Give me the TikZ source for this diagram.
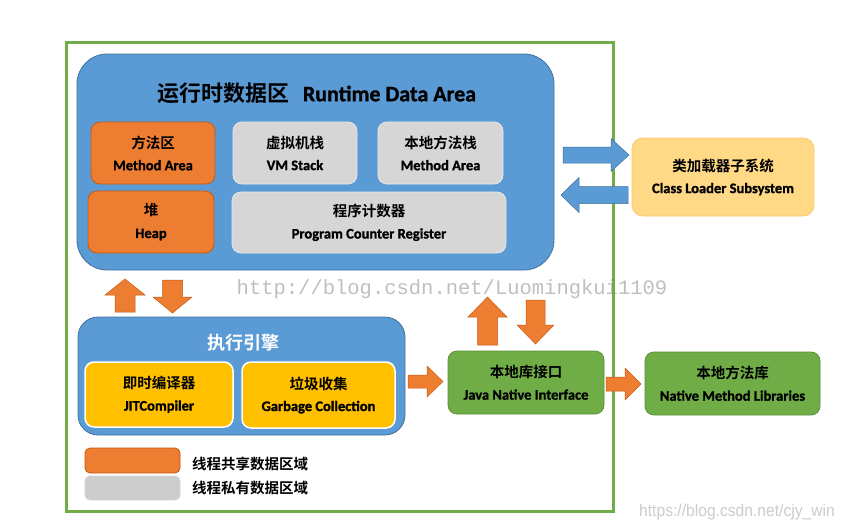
\documentclass[tikz,border=0pt]{standalone}
\usepackage{fontspec}
\setmainfont{Carlito}[BoldFont={Carlito Bold}, BoldFeatures={FakeBold=1.2}]
\newfontfamily\cjk{Noto Sans CJK SC}[BoldFont={Noto Sans CJK SC Bold}]
\newfontfamily\wmmono{Liberation Mono}
\newfontfamily\wmsans{Liberation Sans}
\definecolor{jblue}{HTML}{5B9BD5}
\definecolor{jbluedk}{HTML}{41719C}
\definecolor{jorange}{HTML}{ED7D31}
\definecolor{jorangedk}{HTML}{C55A11}
\definecolor{jgray}{HTML}{D6D6D6}
\definecolor{jgrayln}{HTML}{E8E8E8}
\definecolor{jyellow}{HTML}{FFC000}
\definecolor{jgreen}{HTML}{70AD47}
\definecolor{jgreendk}{HTML}{5B9137}
\definecolor{jcream}{HTML}{FFD986}
\definecolor{jcreamln}{HTML}{FAC96A}
\newcommand{\zh}[1]{{\cjk\bfseries #1}}
\newcommand{\en}[1]{{\bfseries #1}}
\newcommand{\blockarrow}[8]{%
  \filldraw[#1, shift={(#2,#3)}, rotate=#4] (0,-#6) -- ({#5-#8},-#6) -- ({#5-#8},-#7) -- (#5,0) -- ({#5-#8},#7) -- ({#5-#8},#6) -- (0,#6) -- cycle;}
\tikzset{
  box/.style={rectangle, rounded corners=9, align=center, inner sep=0pt, text=black,
    font=\fontsize{14.5}{22}\selectfont, line width=0.8pt},
  obox/.style={box, fill=jorange, draw=jorangedk},
  gbox/.style={box, fill=jgray, draw=jgrayln},
  ybox/.style={box, fill=jyellow, draw=white, line width=1.5pt},
  grbox/.style={box, fill=jgreen, draw=jgreendk},
  bigblue/.style={rectangle, fill=jblue, draw=jbluedk, line width=0.8pt, inner sep=0pt},
  oarrow/.style={fill=jorange, draw=jorangedk, line width=0.5pt},
  barrow/.style={fill=jblue, draw=jbluedk, line width=0.5pt},
}
\begin{document}
\begin{tikzpicture}[x=1pt,y=-1pt]
\useasboundingbox[fill=white] (0,0) rectangle (844,530);
% watermarks
\node[text=gray!50, font=\wmmono\fontsize{20.5}{22}\selectfont, inner sep=0pt] (wm1) at (452,289) {http://blog.csdn.net/Luomingkui1109};
\node[text=gray!40, font=\wmsans\fontsize{17}{19}\selectfont, inner sep=0pt, xscale=0.92] (wm2) at (737,512) {https://blog.csdn.net/cjy\_win};
% outer frame
\node[rectangle, draw=jgreen, line width=3pt, minimum width=547, minimum height=469, inner sep=0pt] (frame) at (339.5,276.5) {};
% runtime data area
\node[bigblue, rounded corners=30, minimum width=477, minimum height=216] (rda) at (315.5,162) {};
\node[font=\fontsize{22}{24}\selectfont, text=black, inner sep=0pt] (rdat) at (317,93) {\zh{运行时数据区}\hspace{13pt}\en{Runtime Data Area}};
\node[obox, minimum width=124, minimum height=62] (ma) at (153,153) {\zh{方法区}\\\en{Method Area}};
\node[gbox, minimum width=124, minimum height=62] (vm) at (295,153) {\zh{虚拟机栈}\\\en{VM Stack}};
\node[gbox, minimum width=125, minimum height=62] (nms) at (440.5,153) {\zh{本地方法栈}\\\en{Method Area}};
\node[obox, minimum width=126, minimum height=62] (heap) at (151,222) {\zh{堆}\\\en{Heap}};
\node[gbox, minimum width=274, minimum height=61] (pc) at (369,222.5) {\zh{程序计数器}\\\en{Program Counter Register}};
% class loader
\node[box, fill=jcream, draw=jcreamln, rounded corners=11, minimum width=182, minimum height=78] (cls) at (723,177) {\zh{类加载器子系统}\\\en{Class Loader Subsystem}};
% execution engine
\node[bigblue, rounded corners=20, minimum width=327, minimum height=118] (exe) at (241.5,376) {};
\node[font=\fontsize{18}{20}\selectfont, text=white, inner sep=0pt] (exet) at (243,343) {\zh{执行引擎}};
\node[ybox, minimum width=148, minimum height=65] (jit) at (159,394.5) {\zh{即时编译器}\\\en{JITCompiler}};
\node[ybox, minimum width=153, minimum height=66] (gc) at (318.5,395) {\zh{垃圾收集}\\\en{Garbage Collection}};
% native
\node[grbox, minimum width=156, minimum height=63] (jni) at (526,382.5) {\zh{本地库接口}\\\en{Java Native Interface}};
\node[grbox, minimum width=175, minimum height=63] (nml) at (732.5,383.5) {\zh{本地方法库}\\\en{Native Method Libraries}};
% legend
\node[obox, rounded corners=5, minimum width=95, minimum height=25] (leg1) at (132.5,460.5) {};
\node[box, fill=jgray!90!gray, draw=jgray, rounded corners=5, minimum width=95, minimum height=24] (leg2) at (132.5,488) {};
\node[anchor=west, inner sep=0pt, font=\fontsize{14.5}{16}\selectfont] (leg1t) at (192,464) {\zh{线程共享数据区域}};
\node[anchor=west, inner sep=0pt, font=\fontsize{14.5}{16}\selectfont] (leg2t) at (192,488) {\zh{线程私有数据区域}};
% block arrows
\blockarrow{barrow}{563}{155}{0}{66}{8}{16.5}{18}
\blockarrow{barrow}{628}{195}{180}{67}{8.5}{17.5}{18}
\blockarrow{oarrow}{125}{312}{90}{33}{10}{20}{16}
\blockarrow{oarrow}{172.5}{280}{270}{33}{10}{19.5}{16}
\blockarrow{oarrow}{487.5}{345}{90}{48}{10}{19.5}{20}
\blockarrow{oarrow}{535.5}{300}{270}{44}{9.5}{18.5}{19}
\blockarrow{oarrow}{408}{381.5}{0}{35}{6.5}{15.5}{16}
\blockarrow{oarrow}{606}{384}{0}{35}{7}{16}{16}
\end{tikzpicture}
\end{document}
